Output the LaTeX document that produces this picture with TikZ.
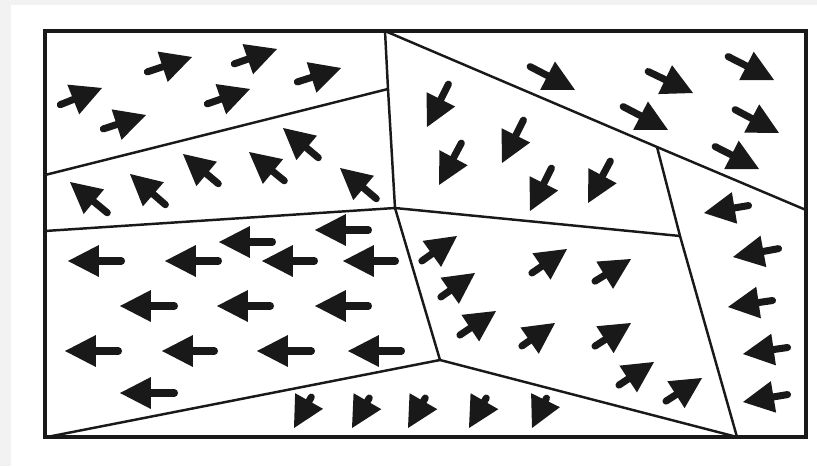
\documentclass[tikz,border=0pt]{standalone}
\usepackage{xcolor}
\usepackage{tikz}
\usetikzlibrary{calc}
\definecolor{pagegray}{RGB}{242,242,242}
\definecolor{wallink}{RGB}{25,25,25}
\tikzset{
  framewall/.style  = {draw=wallink, line width=2.3pt, line join=miter},
  domainwall/.style = {draw=wallink, line width=1.4pt, line join=round},
  spinstem/.style   = {draw=wallink, line width=4pt, line cap=round,
                       shorten <=2pt},
  spinhead/.style   = {fill=wallink}
}
% spin arrow from tail #1 to tip #2 (head drawn by hand)
\newcommand{\spin}[2]{%
  \draw[spinstem] (#1) -- ($(#2)!15pt!(#1)$);
  \fill[spinhead] (#2) -- ($(#2)!17.6pt!(#1)!9.1pt!90:(#1)$)
                       -- ($(#2)!17.6pt!(#1)!9.1pt!-90:(#1)$) -- cycle;}

\begin{document}
\begin{tikzpicture}[x=0.02cm, y=-0.02cm]
  % ---- page ----
  \fill[pagegray] (0,0) rectangle (817,466);
  \fill[white] (11,5) rectangle (817,466);
  % ---- wall junctions ----
  \coordinate (tl) at (45,31);   \coordinate (tr) at (806,31);
  \coordinate (br) at (806,437); \coordinate (bl) at (45,437);
  \coordinate (j1) at (385,31);  % top of the middle wall
  \coordinate (j2) at (388,89);  % upper left wall meets middle wall
  \coordinate (j3) at (395,208); % centre triple point
  \coordinate (j4) at (680,236);
  \coordinate (j5) at (657,147);
  \coordinate (j6) at (737,437);
  \coordinate (j7) at (440,360);
  \coordinate (l1) at (45,175);  \coordinate (l2) at (45,231);
  \coordinate (r1) at (806,210);
  % ---- domain walls ----
  \draw[domainwall] (j1)--(j2)--(j3);
  \draw[domainwall] (l1)--(j2);
  \draw[domainwall] (l2)--(j3)--(j4);
  \draw[domainwall] (j1)--(j5)--(r1);
  \draw[domainwall] (j5)--(j4)--(j6);
  \draw[domainwall] (j3)--(j7)--(j6);
  \draw[domainwall] (47,437)--(j7);
  \draw[framewall] (tl) rectangle (br);
  % ---- upper left domain ----
  \spin{57,106}{102,88}   \spin{100,130}{146,115}
  \spin{144,73}{192,57}   \spin{204,105}{250,89}
  \spin{231,65}{277,49}   \spin{294,83}{341,68}
  % ---- second left domain ----
  \spin{110,215}{70,182}  \spin{168,207}{130,174}
  \spin{221,186}{183,154} \spin{287,183}{249,152}
  \spin{321,160}{283,128} \spin{379,201}{340,168}
  % ---- large left domain ----
  \spin{125,261}{68,261}  \spin{222,261}{165,261}
  \spin{276,242}{219,242} \spin{318,261}{262,261}
  \spin{372,230}{315,230} \spin{399,261}{343,261}
  \spin{178,306}{120,306} \spin{274,306}{217,306}
  \spin{372,306}{315,306}
  \spin{122,351}{65,351}  \spin{218,351}{162,351}
  \spin{315,351}{257,351} \spin{405,351}{348,351}
  \spin{178,393}{120,393}
  % ---- bottom strip ----
  \spin{313,394}{294,428} \spin{371,395}{352,428}
  \spin{427,395}{408,428} \spin{488,395}{469,428}
  \spin{548,395}{532,428}
  % ---- upper middle domain ----
  \spin{450,81}{427,127}  \spin{463,140}{439,185}
  \spin{525,117}{502,163} \spin{553,165}{530,211}
  \spin{612,158}{588,203}
  % ---- upper right domain ----
  \spin{527,65}{575,90}   \spin{645,70}{693,93}
  \spin{725,55}{774,80}   \spin{620,105}{668,130}
  \spin{732,108}{779,133} \spin{712,145}{759,169}
  % ---- right strip ----
  \spin{752,205}{704,213} \spin{782,248}{733,257}
  \spin{776,300}{728,307} \spin{791,347}{743,354}
  \spin{791,394}{743,402}
  % ---- lower middle domain ----
  \spin{419,263}{457,236} \spin{438,299}{475,273}
  \spin{457,337}{496,311} \spin{529,275}{567,249}
  \spin{592,283}{631,259} \spin{519,348}{555,323}
  \spin{592,348}{631,323} \spin{616,387}{654,362}
  \spin{663,403}{702,378}
\end{tikzpicture}
\end{document}
